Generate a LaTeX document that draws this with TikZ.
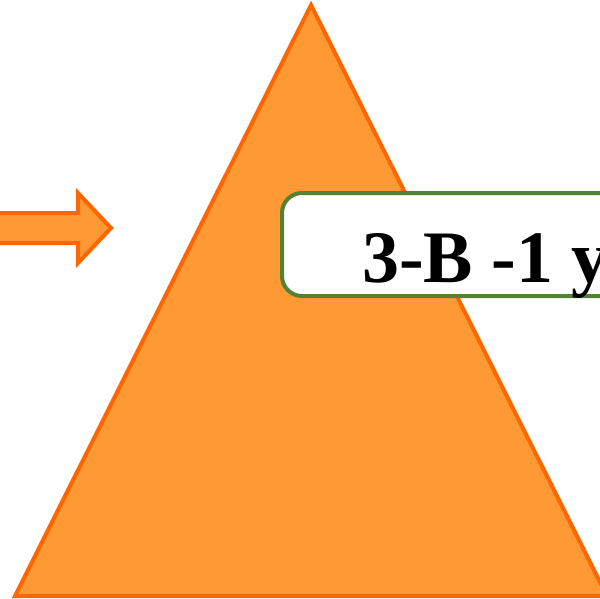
\documentclass[tikz,border=0pt]{standalone}
\usepackage{fontspec}
\setmainfont{Liberation Serif}
\definecolor{tfill}{HTML}{FF9933}
\definecolor{tline}{HTML}{FF6600}
\definecolor{gline}{HTML}{548235}
\begin{document}
\begin{tikzpicture}[x=1pt,y=-1pt,
  orangeshape/.style={fill=tfill,draw=tline,line width=4pt,line join=miter},
  labelbox/.style={fill=white,draw=gline,line width=4pt,rounded corners=20pt}]
\useasboundingbox (0,0) rectangle (600,598);
\clip (0,0) rectangle (600,598);
\fill[white] (0,0) rectangle (600,598);
\draw[orangeshape] (311,5) -- (607,596) -- (15,596) -- cycle;
\draw[orangeshape] (-5,213) -- (78,213) -- (78,193) -- (111,228) -- (78,263) -- (78,243) -- (-5,243) -- cycle;
\draw[labelbox] (282,193) -- (640,193) -- (640,296) -- (282,296) -- cycle;
\node[anchor=base west,inner sep=0pt,font=\fontsize{74}{80}\selectfont\bfseries] (lbl) at (362,282) {3-B -1 y};
\end{tikzpicture}
\end{document}
